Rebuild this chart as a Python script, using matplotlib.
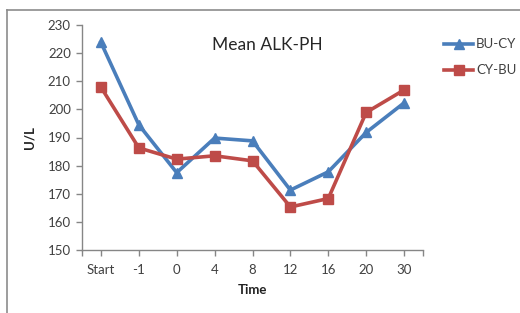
import matplotlib
matplotlib.use("Agg")
import matplotlib.pyplot as plt
from matplotlib.lines import Line2D

categories = ["Start", "-1", "0", "4", "8", "12", "16", "20", "30"]
bu_cy = [223.8, 194.5, 177.5, 189.8, 188.8, 171.3, 177.8, 191.8, 202.3]
cy_bu = [207.9, 186.3, 182.3, 183.5, 181.7, 165.3, 168.3, 198.9, 206.9]
yticks = [150, 160, 170, 180, 190, 200, 210, 220, 230]

plt.rcParams['font.family'] = ['Lato', 'DejaVu Sans']

fig = plt.figure(figsize=(5.2, 3.13), dpi=100)
ax = fig.add_axes([82/520, 1-250/313, (423-82)/520, (250-25)/313])

x = list(range(len(categories)))
blue = '#4A7EBB'
red = '#BE4B48'
ax.plot(x, bu_cy, color=blue, lw=2.6, marker='^', markersize=7.5, label='BU-CY')
ax.plot(x, cy_bu, color=red, lw=2.6, marker='s', markersize=7, label='CY-BU')

ax.set_xlim(-0.5, len(categories)-0.5)
ax.set_ylim(150, 230)
ax.set_yticks(yticks)
ax.set_xticks(x)
ax.set_xticklabels(categories)
ax.set_xticks([-0.5, len(categories)-0.5], minor=True)

for s in ['top', 'right']:
    ax.spines[s].set_visible(False)
for s in ['left', 'bottom']:
    ax.spines[s].set_color('#868686')
    ax.spines[s].set_linewidth(1.0)
ax.tick_params(axis='both', which='both', colors='#868686', labelcolor='#404040', labelsize=9.5, length=4, width=1)
ax.tick_params(axis='x', pad=6)
ax.tick_params(axis='y', pad=4)

ax.set_xlabel('Time', fontsize=9.5, fontweight='bold', color='#222222', labelpad=6)
ax.set_ylabel('U/L', fontsize=9.5, fontweight='bold', color='#222222', labelpad=9)

fig.text(267/520, 1-45/313, 'Mean ALK-PH', ha='center', va='center', fontsize=12.5, color='#262626')

leg = ax.legend(loc='upper left', bbox_to_anchor=(439/520, 1-33/313), bbox_transform=fig.transFigure,
                frameon=False, fontsize=9.5, handlelength=2.2, handletextpad=0.2, labelspacing=1.05,
                borderaxespad=0)
for t in leg.get_texts():
    t.set_color('#404040')

# figure frame (gray border at top and left)
fig.add_artist(Line2D([7/520, 1], [1-10/313, 1-10/313], transform=fig.transFigure, color='#8c8c8c', lw=1.2))
fig.add_artist(Line2D([7/520, 7/520], [0, 1-10/313], transform=fig.transFigure, color='#8c8c8c', lw=1.2))

fig.savefig('out.png', dpi=100)
